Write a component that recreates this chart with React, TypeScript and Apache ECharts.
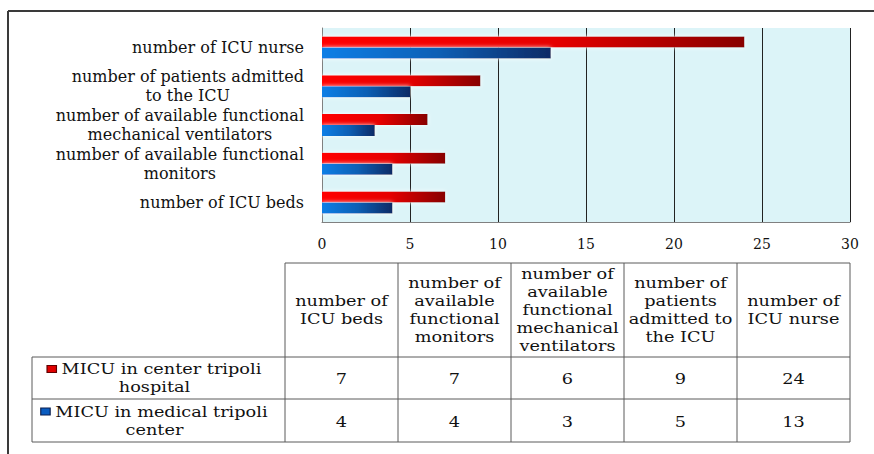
import React, { useEffect, useRef } from "react";
import * as echarts from "echarts";

const categories = [
  "number of ICU beds",
  "number of available functional\nmonitors",
  "number of available functional\nmechanical ventilators",
  "number of patients admitted\nto the ICU",
  "number of ICU nurse",
];
const tableHeaders = [
  ["number of", "ICU beds"],
  ["number of", "available", "functional", "monitors"],
  ["number of", "available", "functional", "mechanical", "ventilators"],
  ["number of", "patients", "admitted to", "the ICU"],
  ["number of", "ICU nurse"],
];
const seriesNames = ["MICU in center tripoli hospital", "MICU in medical tripoli center"];
const legendLines = [
  ["MICU in center tripoli", "hospital"],
  ["MICU in medical tripoli", "center"],
];
const centerTripoli = [7, 7, 6, 9, 24];
const medicalTripoli = [4, 4, 3, 5, 13];
const xMin = 0;
const xMax = 30;
const xStep = 5;

const FONT = "'DejaVu Serif', serif";

export default function App() {
  const ref = useRef<HTMLDivElement>(null);
  useEffect(() => {
    document.body.style.margin = "0";
    const chart = echarts.init(ref.current!, undefined, { renderer: "svg" });

    const gridLeft = 322;
    const gridRight = 850;
    const tL = 285;
    const tR = 850;
    const colW = (tR - tL) / 5;
    const yTop = 263;
    const yH = 357;
    const yR1 = 399;
    const yB = 442;
    const legL = 32;
    const lineColor = "#5a5a5a";
    const SX = 1.18;

    const graphics: any[] = [];
    const hline = (x1: number, x2: number, y: number) =>
      graphics.push({ type: "line", shape: { x1, y1: y, x2, y2: y }, style: { stroke: lineColor, lineWidth: 1 }, silent: true });
    const vline = (x: number, y1: number, y2: number) =>
      graphics.push({ type: "line", shape: { x1: x, y1, x2: x, y2 }, style: { stroke: lineColor, lineWidth: 1 }, silent: true });

    // outer frame
    graphics.push({ type: "line", shape: { x1: 8, y1: 11, x2: 874, y2: 11 }, style: { stroke: "#3a3a3a", lineWidth: 2 } });
    graphics.push({ type: "line", shape: { x1: 8, y1: 11, x2: 8, y2: 454 }, style: { stroke: "#3a3a3a", lineWidth: 2 } });

    hline(tL, tR, yTop);
    hline(legL, tR, yH);
    hline(legL, tR, yR1);
    hline(legL, tR, yB);
    vline(legL, yH, yB);
    for (let i = 0; i <= 5; i++) vline(tL + i * colW, yTop, yB);

    tableHeaders.forEach((lines, i) => {
      graphics.push({
        type: "text",
        x: tL + colW * (i + 0.5),
        y: (yTop + yH) / 2,
        scaleX: SX,
        style: {
          text: lines.join("\n"),
          align: "center",
          verticalAlign: "middle",
          font: `15px ${FONT}`,
          lineHeight: 18,
          fill: "#111",
        },
      });
    });

    const rows = [centerTripoli, medicalTripoli];
    const rowY = [(yH + yR1) / 2, (yR1 + yB) / 2];
    const sqColors = [
      { fill: "#e00000", border: "#600000" },
      { fill: "#0a5cc0", border: "#0a1f50" },
    ];
    rows.forEach((vals, r) => {
      vals.forEach((v, i) => {
        graphics.push({
          type: "text",
          x: tL + colW * (i + 0.5),
          y: rowY[r] + 1,
          scaleX: SX,
          style: { text: String(v), align: "center", verticalAlign: "middle", font: `15px ${FONT}`, fill: "#111" },
        });
      });
      graphics.push({
        type: "text",
        x: (legL + tL) / 2 - 4,
        y: rowY[r],
        scaleX: SX,
        style: {
          text: `{sq|} ${legendLines[r][0]}\n${legendLines[r][1]}`,
          align: "center",
          verticalAlign: "middle",
          font: `15px ${FONT}`,
          lineHeight: 18,
          fill: "#111",
          rich: {
            sq: {
              width: 7,
              height: 6,
              backgroundColor: sqColors[r].fill,
              borderColor: sqColors[r].border,
              borderWidth: 1,
            },
          },
        },
      });
    });

    const redGrad = new echarts.graphic.LinearGradient(0, 0, 1, 0, [
      { offset: 0, color: "#ff0000" },
      { offset: 0.55, color: "#e60000" },
      { offset: 1, color: "#880000" },
    ]);
    const blueGrad = new echarts.graphic.LinearGradient(0, 0, 1, 0, [
      { offset: 0, color: "#0a7ee6" },
      { offset: 0.5, color: "#0860b6" },
      { offset: 1, color: "#0a2a66" },
    ]);

    chart.setOption({
      animation: false,
      grid: {
        left: gridLeft,
        right: 874 - gridRight,
        top: 28,
        bottom: 454 - 222,
        show: true,
        backgroundColor: "#dcf4f8",
        borderWidth: 0,
      },
      xAxis: {
        type: "value",
        min: xMin,
        max: xMax,
        interval: xStep,
        axisLine: { show: true, lineStyle: { color: "#808080", width: 1 } },
        axisTick: { show: false },
        splitLine: { show: true, lineStyle: { color: "#222", width: 1 } },
        axisLabel: { margin: 15, fontFamily: FONT, fontSize: 14, color: "#111" },
      },
      yAxis: {
        type: "category",
        data: categories,
        axisLine: { show: true, lineStyle: { color: "#808080", width: 1 } },
        axisTick: { show: false },
        axisLabel: {
          margin: 18,
          fontFamily: FONT,
          fontSize: 16,
          color: "#111",
          formatter: (v: string) => v.split("\n").map((l) => `{c|${l}}`).join("\n"),
          rich: { c: { align: "center", fontFamily: FONT, fontSize: 16, color: "#111", lineHeight: 19 } },
        },
      },
      series: [
        {
          name: seriesNames[0],
          type: "bar",
          data: centerTripoli,
          barWidth: 11,
          barGap: "0%",
          itemStyle: { color: redGrad, shadowColor: "rgba(255,255,255,0.95)", shadowBlur: 4 },
        },
        {
          name: seriesNames[1],
          type: "bar",
          data: medicalTripoli,
          barWidth: 11,
          barGap: "0%",
          itemStyle: { color: blueGrad, shadowColor: "rgba(255,255,255,0.95)", shadowBlur: 4 },
        },
      ],
      graphic: graphics,
    });
    return () => chart.dispose();
  }, []);
  return <div ref={ref} style={{ width: 874, height: 454 }} />;
}
